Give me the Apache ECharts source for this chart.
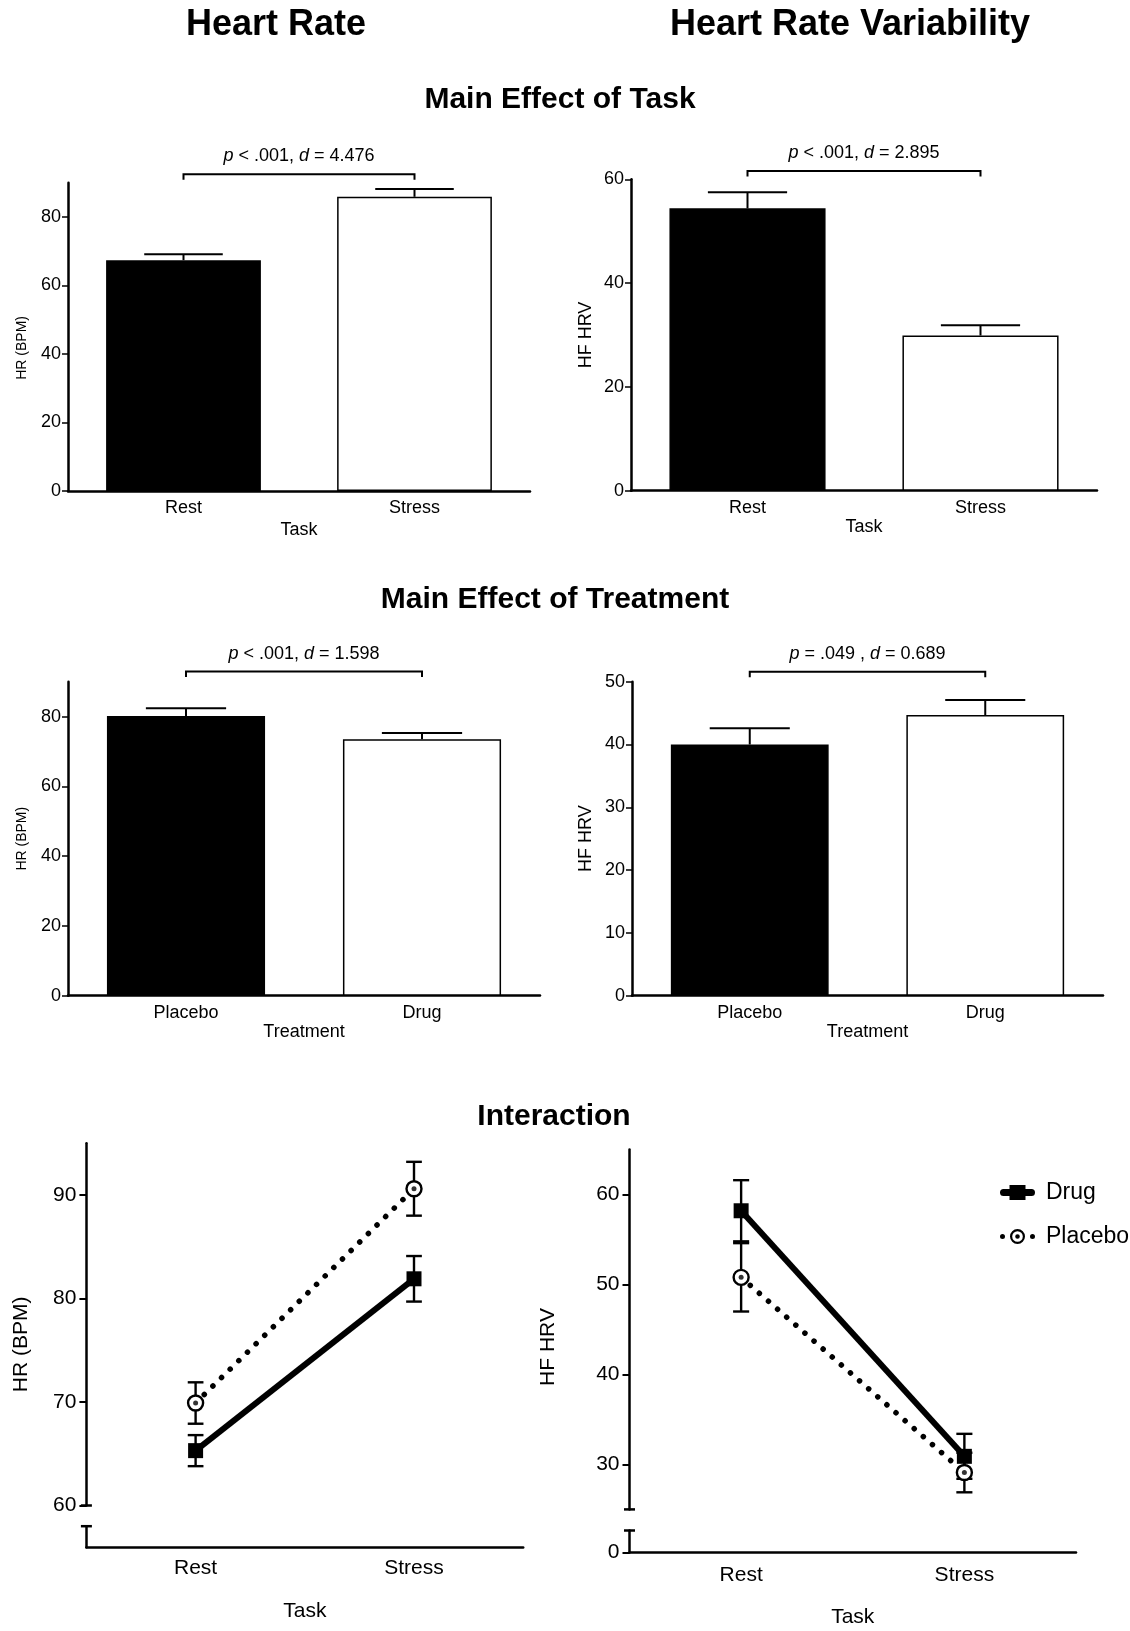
<!DOCTYPE html>
<html><head><meta charset="utf-8">
<script src="https://cdn.jsdelivr.net/npm/echarts@6/dist/echarts.min.js"></script>
<style>html,body{margin:0;padding:0;background:#fff}#c{width:1130px;height:1631px}</style>
</head><body><div id="c"></div>
<script>
// ---------------- data ----------------
const taskCategories = ['Rest', 'Stress'];
const treatmentCategories = ['Placebo', 'Drug'];

const hrTaskMean = [67.4, 85.9];
const hrTaskSE = [1.7, 2.3];
const hrvTaskMean = [54.4, 29.9];
const hrvTaskSE = [3.1, 2.0];

const hrTreatMean = [80.2, 73.5];
const hrTreatSE = [2.2, 1.8];
const hrvTreatMean = [40.0, 44.7];
const hrvTreatSE = [2.6, 2.4];

const hrDrugMean = [65.3, 81.9];
const hrDrugSE = [1.5, 2.2];
const hrPlaceboMean = [69.9, 90.6];
const hrPlaceboSE = [2.0, 2.6];

const hrvDrugMean = [58.2, 30.9];
const hrvDrugSE = [3.4, 2.5];
const hrvPlaceboMean = [50.8, 29.1];
const hrvPlaceboSE = [3.8, 2.2];

const hrTaskTicks = [0, 20, 40, 60, 80];
const hrvTaskTicks = [0, 20, 40, 60];
const hrTreatTicks = [0, 20, 40, 60, 80];
const hrvTreatTicks = [0, 10, 20, 30, 40, 50];
const hrInterTicks = [60, 70, 80, 90];
const hrvInterTicks = [30, 40, 50, 60];

const statHRTask = '{i|p} < .001, {i|d} = 4.476';
const statHRVTask = '{i|p} < .001, {i|d} = 2.895';
const statHRTreat = '{i|p} < .001, {i|d} = 1.598';
const statHRVTreat = '{i|p} = .049 , {i|d} = 0.689';

// ---------------- styling / layout ----------------
const F = "'Liberation Sans', Arial, Helvetica, sans-serif";
const K = '#000';

const grid = [
  {left: 68, top: 182.75, width: 462, height: 308.25},
  {left: 631, top: 179.3, width: 466, height: 311.4},
  {left: 68, top: 681.7, width: 472, height: 314},
  {left: 632, top: 681.7, width: 471, height: 314},
  {left: 86.4, top: 1143.2, width: 436.8, height: 362.3},
  {left: 86.4, top: 1526.2, width: 436.8, height: 21.1},
  {left: 629.5, top: 1149.6, width: 446.5, height: 359.8},
  {left: 629.5, top: 1530.5, width: 446.5, height: 22.1}
];
const xAxis = [], yAxis = [], series = [];

function barPanel(gi, cats, mean, se, yMax, ticks, xName, xGap, yName, ySize, yGap, yPad, stat, level) {
  xAxis.push({
    gridIndex: gi, type: 'category', data: cats,
    axisLine: {lineStyle: {color: K, width: 2.5}},
    axisTick: {alignWithLabel: true, length: 6, lineStyle: {color: K, width: 2}},
    axisLabel: {color: K, fontSize: 18, fontFamily: F, margin: 8},
    name: xName, nameLocation: 'middle', nameGap: xGap,
    nameTextStyle: {color: K, fontSize: 18, fontFamily: F}
  });
  yAxis.push({
    gridIndex: gi, type: 'value', min: 0, max: yMax, splitLine: {show: false},
    axisLine: {show: true, lineStyle: {color: K, width: 2.5}},
    axisTick: {show: true, length: 6, customValues: ticks, lineStyle: {color: K, width: 1.5}},
    axisLabel: {color: K, fontSize: 18, fontFamily: F, margin: 7, customValues: ticks},
    name: yName, nameLocation: 'middle', nameGap: yGap,
    nameTextStyle: {color: K, fontSize: ySize, fontFamily: F, padding: yPad}
  });
  series.push({
    type: 'bar', xAxisIndex: gi, yAxisIndex: gi, barWidth: '67%', silent: true, z: 2,
    itemStyle: {borderColor: K, borderWidth: 1.5},
    data: mean.map((v, i) => ({value: v, itemStyle: {color: i === 0 ? K : '#fff'}}))
  });
  series.push({
    type: 'custom', xAxisIndex: gi, yAxisIndex: gi, z: 3, silent: true,
    data: mean.map((v, i) => [i, v, se[i]]), encode: {x: 0, y: 1},
    renderItem: (params, api) => {
      const i = api.value(0), m = api.value(1), e = api.value(2);
      const p0 = api.coord([i, m]), p1 = api.coord([i, m + e]);
      const hw = api.size([1, 0])[0] * 0.17;
      return {type: 'group', children: [
        {type: 'line', shape: {x1: p0[0], y1: p0[1], x2: p1[0], y2: p1[1]}, style: {stroke: K, lineWidth: 2}},
        {type: 'line', shape: {x1: p1[0] - hw, y1: p1[1], x2: p1[0] + hw, y2: p1[1]}, style: {stroke: K, lineWidth: 2}}
      ]};
    }
  });
  series.push({
    type: 'custom', xAxisIndex: gi, yAxisIndex: gi, z: 3, silent: true, clip: false,
    data: [[0, 1, level]], encode: {x: [0, 1], y: 2},
    renderItem: (params, api) => {
      const a = api.coord([api.value(0), api.value(2)]);
      const b = api.coord([api.value(1), api.value(2)]);
      return {type: 'group', children: [
        {type: 'polyline', shape: {points: [[a[0], a[1] + 5.5], [a[0], a[1]], [b[0], b[1]], [b[0], b[1] + 5.5]]},
          style: {stroke: K, lineWidth: 2, fill: 'none'}},
        {type: 'text', style: {
          text: stat, x: (a[0] + b[0]) / 2, y: a[1] - 18, fill: K, fontSize: 18, fontFamily: F,
          align: 'center', verticalAlign: 'middle', textAlign: 'center', textVerticalAlign: 'middle',
          rich: {i: {fontStyle: 'italic', fontSize: 18, fontFamily: F, fill: K}}
        }}
      ]};
    }
  });
}

function capSeries(gi, val) {
  series.push({
    type: 'custom', xAxisIndex: gi, yAxisIndex: gi, z: 3, silent: true, clip: false,
    data: [[0, val]], encode: {x: 0, y: 1},
    renderItem: (params, api) => {
      const cs = params.coordSys;
      const y = api.coord([0, api.value(1)])[1];
      return {type: 'line', shape: {x1: cs.x - 5.5, y1: y, x2: cs.x + 5.5, y2: y}, style: {stroke: K, lineWidth: 2.5}};
    }
  });
}

function interPanel(gu, gl, yMin, yMax, ticks, yName, yGap, yPad, drugM, drugS, plaM, plaS, zeroLabel, xLabelMargin, xGap) {
  xAxis.push({gridIndex: gu, type: 'category', data: taskCategories, show: false});
  yAxis.push({
    gridIndex: gu, type: 'value', min: yMin, max: yMax, splitLine: {show: false},
    axisLine: {show: true, lineStyle: {color: K, width: 2.5}},
    axisTick: {show: true, length: 7, customValues: ticks, lineStyle: {color: K, width: 2}},
    axisLabel: {color: K, fontSize: 21, fontFamily: F, margin: 10, customValues: ticks},
    name: yName, nameLocation: 'middle', nameGap: yGap,
    nameTextStyle: {color: K, fontSize: 21, fontFamily: F, padding: yPad}
  });
  xAxis.push({
    gridIndex: gl, type: 'category', data: taskCategories,
    axisLine: {lineStyle: {color: K, width: 2.5}},
    axisTick: {alignWithLabel: true, length: 7, lineStyle: {color: K, width: 2}},
    axisLabel: {color: K, fontSize: 21, fontFamily: F, margin: xLabelMargin},
    name: 'Task', nameLocation: 'middle', nameGap: xGap,
    nameTextStyle: {color: K, fontSize: 21, fontFamily: F}
  });
  yAxis.push({
    gridIndex: gl, type: 'value', min: 0, max: 1, splitLine: {show: false},
    axisLine: {show: true, lineStyle: {color: K, width: 2.5}},
    axisTick: {show: zeroLabel, length: 7, customValues: [0], lineStyle: {color: K, width: 2}},
    axisLabel: {show: zeroLabel, color: K, fontSize: 21, fontFamily: F, margin: 10, customValues: [0]}
  });
  capSeries(gu, yMin);
  capSeries(gl, 1);
  const errRender = (params, api) => {
    const i = api.value(0), m = api.value(1), e = api.value(2);
    const p0 = api.coord([i, m - e]), p1 = api.coord([i, m + e]);
    const hw = api.size([1, 0])[0] * 0.036;
    return {type: 'group', children: [
      {type: 'line', shape: {x1: p0[0], y1: p0[1], x2: p1[0], y2: p1[1]}, style: {stroke: K, lineWidth: 2.4}},
      {type: 'line', shape: {x1: p1[0] - hw, y1: p1[1], x2: p1[0] + hw, y2: p1[1]}, style: {stroke: K, lineWidth: 2.4}},
      {type: 'line', shape: {x1: p0[0] - hw, y1: p0[1], x2: p0[0] + hw, y2: p0[1]}, style: {stroke: K, lineWidth: 2.4}}
    ]};
  };
  series.push({type: 'custom', xAxisIndex: gu, yAxisIndex: gu, z: 2, silent: true, clip: false,
    data: drugM.map((v, i) => [i, v, drugS[i]]), encode: {x: 0, y: 1}, renderItem: errRender});
  series.push({type: 'custom', xAxisIndex: gu, yAxisIndex: gu, z: 2, silent: true, clip: false,
    data: plaM.map((v, i) => [i, v, plaS[i]]), encode: {x: 0, y: 1}, renderItem: errRender});
  series.push({
    name: 'Placebo', type: 'line', xAxisIndex: gu, yAxisIndex: gu, data: plaM, z: 4, silent: true,
    symbol: 'circle', symbolSize: 15, showAllSymbol: true,
    lineStyle: {color: K, width: 5.5, type: [0.1, 12], cap: 'round'},
    itemStyle: {color: '#fff', borderColor: K, borderWidth: 2.4}
  });
  series.push({
    type: 'scatter', xAxisIndex: gu, yAxisIndex: gu, data: plaM, z: 5, silent: true,
    symbol: 'circle', symbolSize: 5, itemStyle: {color: K}
  });
  series.push({
    name: 'Drug', type: 'line', xAxisIndex: gu, yAxisIndex: gu, data: drugM, z: 4, silent: true,
    symbol: 'rect', symbolSize: 15, showAllSymbol: true,
    lineStyle: {color: K, width: 6}, itemStyle: {color: K}
  });
}

barPanel(0, taskCategories, hrTaskMean, hrTaskSE, 90, hrTaskTicks, 'Task', 30, 'HR (BPM)', 14, 39, [0, 22, 0, 0], statHRTask, 92.5);
barPanel(1, taskCategories, hrvTaskMean, hrvTaskSE, 60, hrvTaskTicks, 'Task', 27, 'HF HRV', 18, 36, 0, statHRVTask, 61.6);
barPanel(2, treatmentCategories, hrTreatMean, hrTreatSE, 90, hrTreatTicks, 'Treatment', 27, 'HR (BPM)', 14, 39, 0, statHRTreat, 92.9);
barPanel(3, treatmentCategories, hrvTreatMean, hrvTreatSE, 50, hrvTreatTicks, 'Treatment', 25.5, 'HF HRV', 18, 37, 0, statHRVTreat, 51.6);

interPanel(4, 5, 60, 95, hrInterTicks, 'HR (BPM)', 54.5, [0, 40, 0, 0],
  hrDrugMean, hrDrugSE, hrPlaceboMean, hrPlaceboSE, false, 10.5, 53);
interPanel(6, 7, 25, 65, hrvInterTicks, 'HF HRV', 71, [0, 35, 0, 0],
  hrvDrugMean, hrvDrugSE, hrvPlaceboMean, hrvPlaceboSE, true, 12.4, 54.6);

const drugIcon = 'path://M3.5,4 L31.5,4 A3.5,3.5 0 0 1 31.5,11 L3.5,11 A3.5,3.5 0 0 1 3.5,4 Z M9.5,0 L25.5,0 L25.5,15 L9.5,15 Z';
const placeboIcon = 'path://M2.5,5 A2.5,2.5 0 1 1 2.5,10 A2.5,2.5 0 1 1 2.5,5 Z ' +
  'M17.5,0 A7.5,7.5 0 1 1 17.5,15 A7.5,7.5 0 1 1 17.5,0 Z ' +
  'M17.5,2.2 A5.3,5.3 0 1 0 17.5,12.8 A5.3,5.3 0 1 0 17.5,2.2 Z ' +
  'M17.5,5.2 A2.3,2.3 0 1 1 17.5,9.8 A2.3,2.3 0 1 1 17.5,5.2 Z ' +
  'M32.5,5 A2.5,2.5 0 1 1 32.5,10 A2.5,2.5 0 1 1 32.5,5 Z';

function title(text, x, y, size) {
  return {type: 'text', x: x, y: y, silent: true, style: {
    text: text, fill: K, fontSize: size, fontWeight: 'bold', fontFamily: F,
    align: 'center', verticalAlign: 'middle', textAlign: 'center', textVerticalAlign: 'middle'
  }};
}

const option = {
  animation: false,
  backgroundColor: '#fff',
  grid: grid,
  xAxis: xAxis,
  yAxis: yAxis,
  series: series,
  legend: {
    orient: 'vertical', left: 995, top: 1176, itemWidth: 35, itemHeight: 15, itemGap: 21,
    selectedMode: false,
    textStyle: {color: K, fontSize: 23, fontFamily: F, padding: [0, 0, 0, 6]},
    data: [
      {name: 'Drug', icon: drugIcon, itemStyle: {color: K, borderWidth: 0}},
      {name: 'Placebo', icon: placeboIcon, itemStyle: {color: K, borderWidth: 0}}
    ]
  },
  graphic: [
    title('Heart Rate', 276, 25, 36),
    title('Heart Rate Variability', 850, 25, 36),
    title('Main Effect of Task', 560, 100, 30),
    title('Main Effect of Treatment', 555, 600, 30),
    title('Interaction', 554, 1117, 30)
  ]
};

const chart = echarts.init(document.getElementById('c'), null, {renderer: 'canvas'});
chart.setOption(option);
</script>
</body></html>
